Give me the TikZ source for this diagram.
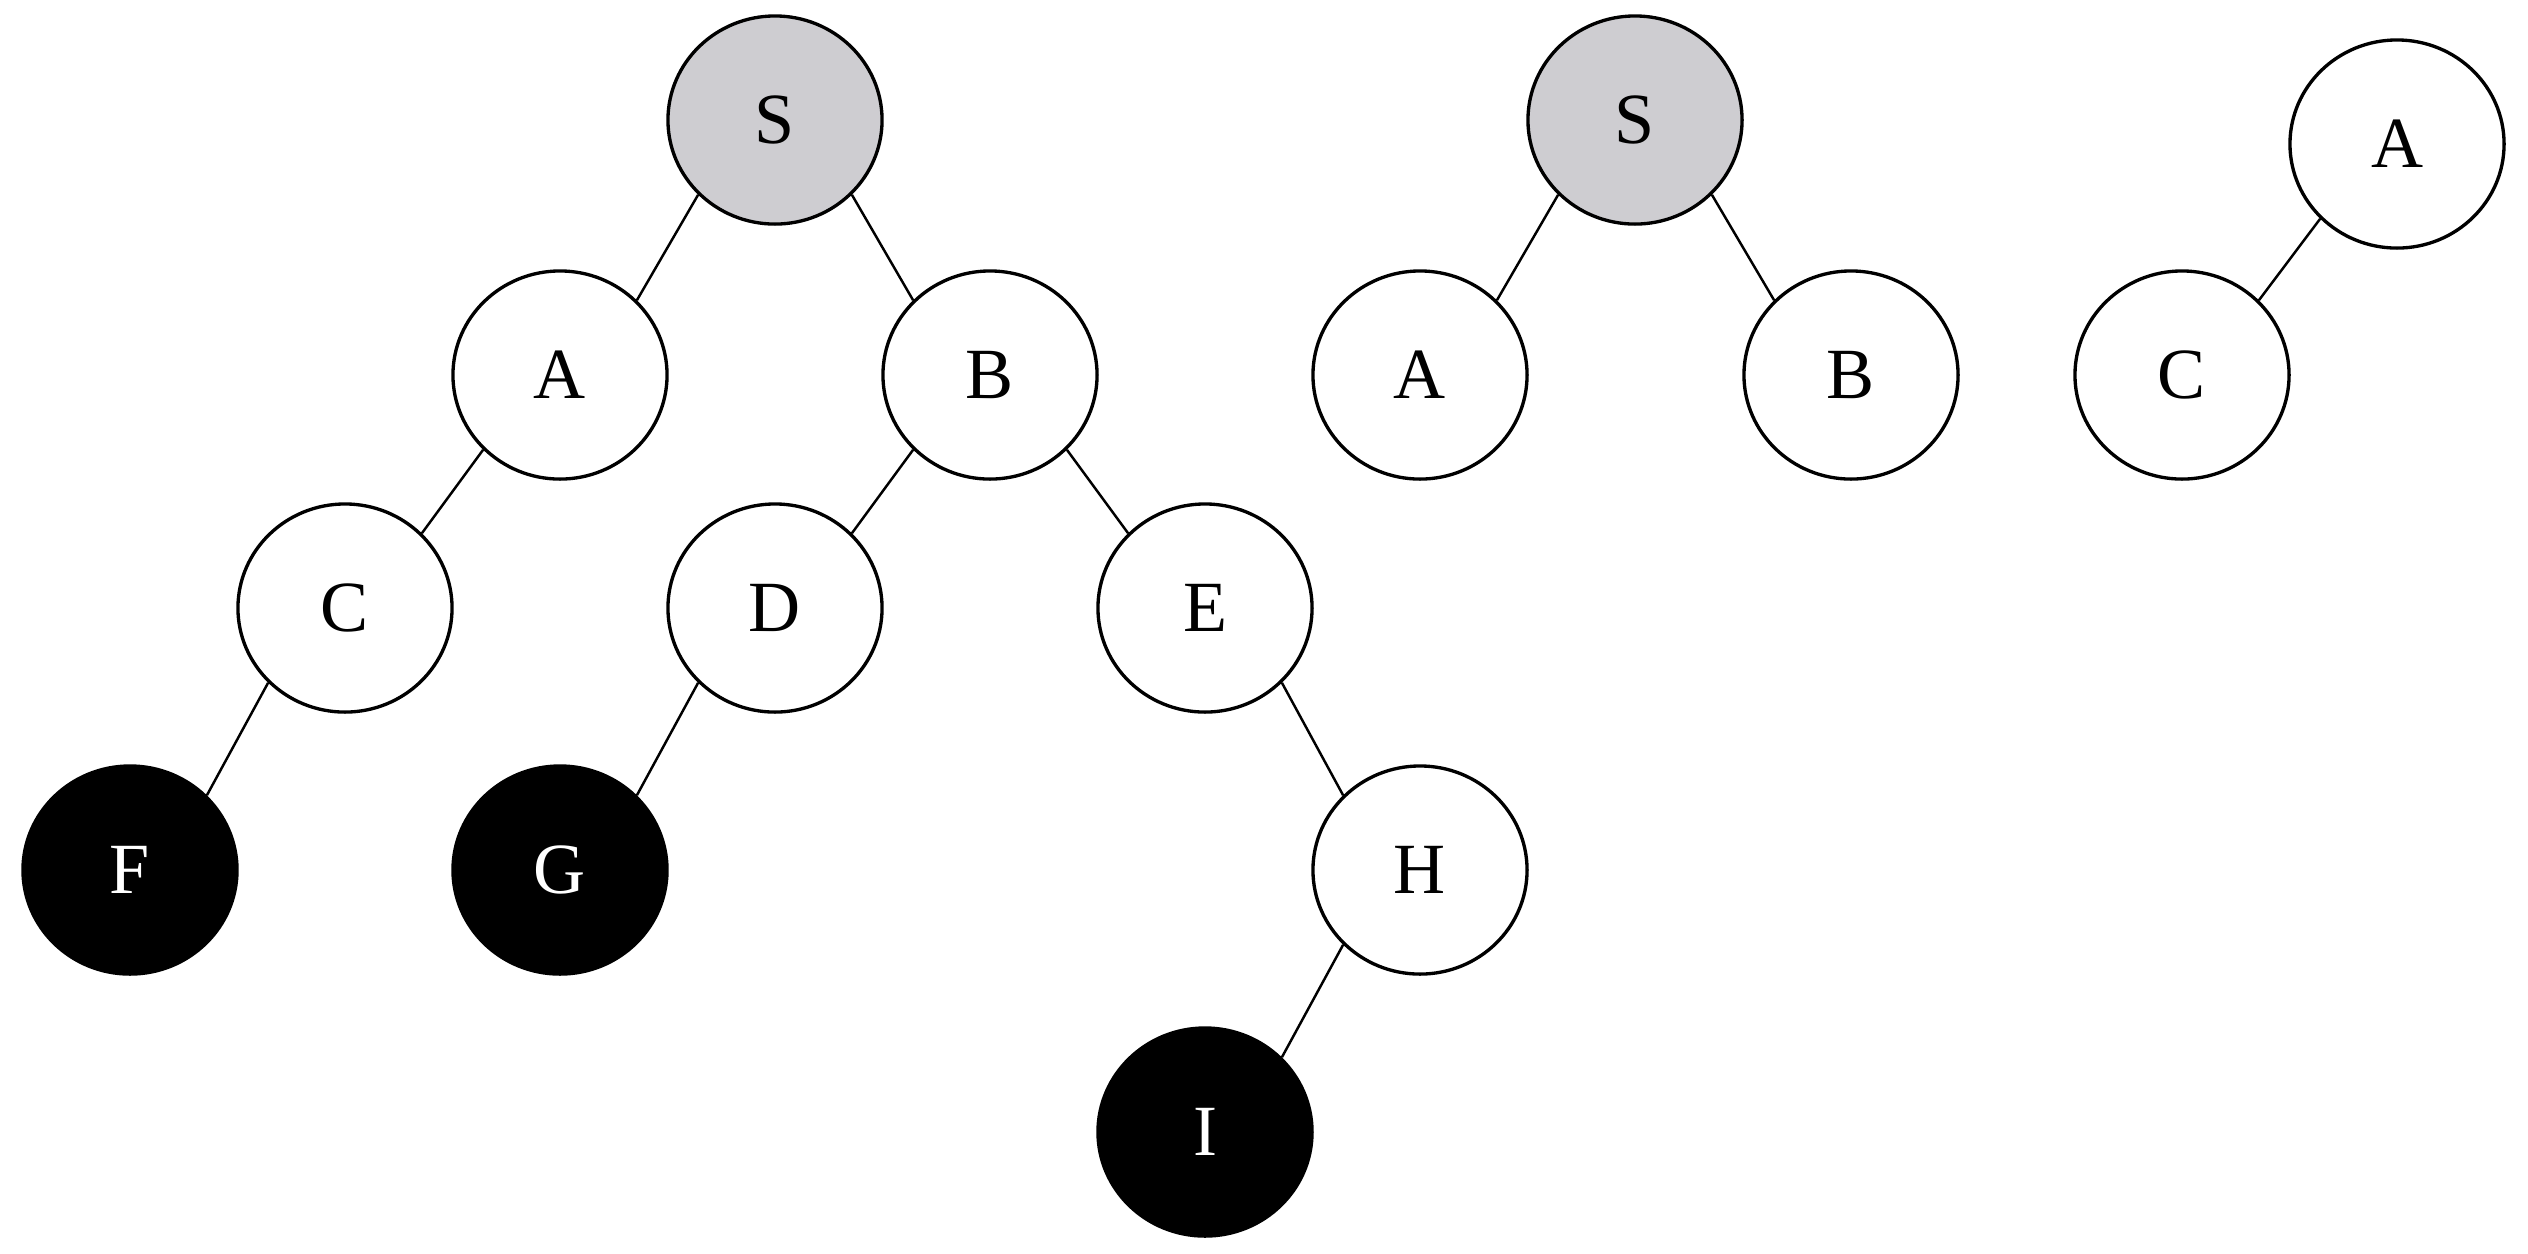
\documentclass[tikz,border=0pt]{standalone}
\usepackage{xcolor}
\usepackage{fontspec}
\setmainfont{Liberation Serif}
\usepackage{tikz}
\usetikzlibrary{arrows.meta, shapes}
\definecolor{rootgray}{RGB}{206, 205, 209}

\begin{document}
\begin{tikzpicture}[x=0.01cm, y=-0.01cm,
        vtx/.style={ellipse, draw, line width=0.95pt, fill=white, minimum width=2.14cm, minimum height=2.08cm, inner sep=0pt, font=\fontsize{20.5}{24}\selectfont},
        rootv/.style={vtx, fill=rootgray},
        goalv/.style={vtx, fill=black, text=white},
        edge/.style={line width=0.7pt}]
        \useasboundingbox (0,0) rectangle (2528,1253);

        % 搜索树
        \node[rootv] (s1) at (775, 120) {S};
        \node[vtx] (a1) at (560, 375) {A};
        \node[vtx] (b1) at (990, 375) {B};
        \node[vtx] (c1) at (345, 608) {C};
        \node[vtx] (d1) at (775, 608) {D};
        \node[vtx] (e1) at (1205, 608) {E};
        \node[goalv] (f1) at (130, 870) {F};
        \node[goalv] (g1) at (560, 870) {G};
        \node[vtx] (h1) at (1420, 870) {H};
        \node[goalv] (i1) at (1205, 1132) {I};

        \draw[edge] (s1.south west) -- (a1.north east);
        \draw[edge] (s1.south east) -- (b1.north west);
        \draw[edge] (a1.south west) -- (c1.north east);
        \draw[edge] (b1.south west) -- (d1.north east);
        \draw[edge] (b1.south east) -- (e1.north west);
        \draw[edge] (c1.south west) -- (f1.north east);
        \draw[edge] (d1.south west) -- (g1.north east);
        \draw[edge] (e1.south east) -- (h1.north west);
        \draw[edge] (h1.south west) -- (i1.north east);

        % 第一层
        \node[rootv] (s2) at (1635, 120) {S};
        \node[vtx] (a2) at (1420, 375) {A};
        \node[vtx] (b2) at (1851, 375) {B};
        \draw[edge] (s2.south west) -- (a2.north east);
        \draw[edge] (s2.south east) -- (b2.north west);

        % 子树 A
        \node[vtx] (a3) at (2397, 144) {A};
        \node[vtx] (c3) at (2182, 375) {C};
        \draw[edge] (a3.south west) -- (c3.north east);
    \end{tikzpicture}
\end{document}
